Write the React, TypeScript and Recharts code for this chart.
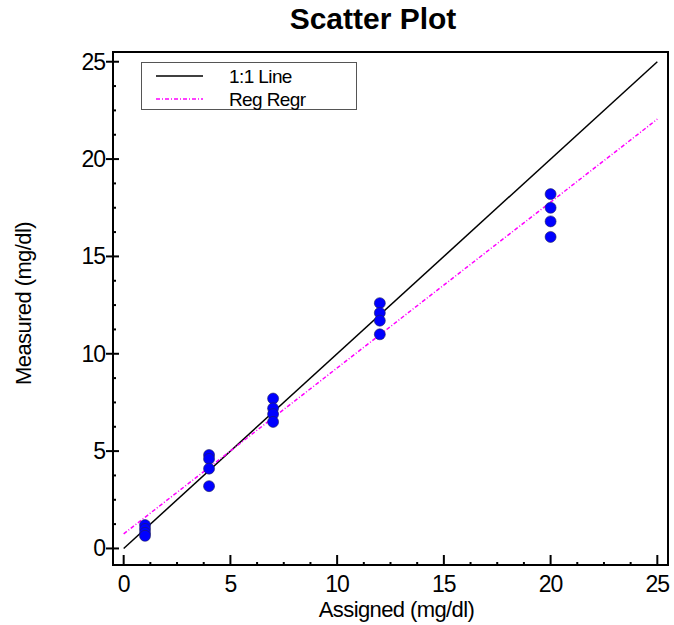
import {
  ScatterChart,
  Scatter,
  XAxis,
  YAxis,
  Legend,
  ReferenceArea,
} from "recharts";

const ASSIGNED = [1, 1, 1, 1, 4, 4, 4, 4, 7, 7, 7, 7, 12, 12, 12, 12, 20, 20, 20, 20];
const MEASURED = [1.2, 1.0, 0.8, 0.65, 4.8, 4.6, 4.1, 3.2, 7.7, 7.2, 6.9, 6.5, 12.6, 12.1, 11.7, 11.0, 18.2, 17.5, 16.8, 16.0];

const IDENTITY_X = [0, 25];
const IDENTITY_Y = [0, 25];
const REG_X = [0, 25];
const REG_Y = [0.75, 22.05];

const TICKS = [0, 1.25, 2.5, 3.75, 5, 6.25, 7.5, 8.75, 10, 11.25, 12.5, 13.75, 15, 16.25, 17.5, 18.75, 20, 21.25, 22.5, 23.75, 25];
const MAJOR = [0, 5, 10, 15, 20, 25];

const X_DOMAIN = [-0.5, 25.5];
const Y_DOMAIN = [-0.85, 25.5];

const SERIES_NAMES = ["1:1 Line", "Reg Regr"];

const points = ASSIGNED.map((x, i) => ({ x, y: MEASURED[i] }));
const identity = IDENTITY_X.map((x, i) => ({ x, y: IDENTITY_Y[i] }));
const regression = REG_X.map((x, i) => ({ x, y: REG_Y[i] }));

const FONT = "'Liberation Sans', Arial, sans-serif";
const REG_DASH = "4 2 1 2";

function XTick({ x, y, payload }: any) {
  const major = MAJOR.includes(payload.value);
  return (
    <g>
      <line x1={x} x2={x} y1={y} y2={y - (major ? 10 : 3)} stroke="#000" strokeWidth={2} />
      {major && (
        <text x={x} y={y + 27} textAnchor="middle" fontSize={23} letterSpacing={-1} fill="#000" fontFamily={FONT}>
          {payload.value}
        </text>
      )}
    </g>
  );
}

function YTick({ x, y, payload }: any) {
  const major = MAJOR.includes(payload.value);
  return (
    <g>
      {major ? (
        <line x1={x - 7} x2={x + 6} y1={y} y2={y} stroke="#000" strokeWidth={2} />
      ) : (
        <line x1={x} x2={x + 3} y1={y} y2={y} stroke="#000" strokeWidth={2} />
      )}
      {major && (
        <text x={x - 8} y={y + 8} textAnchor="end" fontSize={23} letterSpacing={-1} fill="#000" fontFamily={FONT}>
          {payload.value}
        </text>
      )}
    </g>
  );
}

function Dot(props: any) {
  return <circle cx={props.cx} cy={props.cy} r={5.5} fill="#0000ff" stroke="#20205a" strokeWidth={0.6} />;
}

const noShape = () => <g />;

function LegendBox() {
  return (
    <div
      style={{
        border: "1px solid #555",
        width: 216,
        height: 48,
        boxSizing: "border-box",
        background: "#fff",
        position: "relative",
      }}
    >
      <svg width={216} height={48} style={{ position: "absolute", left: 0, top: 0 }}>
        <line x1={14} x2={61} y1={13} y2={13} stroke="#000" strokeWidth={1.5} />
        <line x1={14} x2={61} y1={36} y2={36} stroke="#ff00ff" strokeWidth={1.5} strokeDasharray={REG_DASH} />
        <text x={87} y={20} fontSize={19} fill="#000" fontFamily={FONT} letterSpacing={-0.6}>
          {SERIES_NAMES[0]}
        </text>
        <text x={87} y={43} fontSize={19} fill="#000" fontFamily={FONT} letterSpacing={-0.6}>
          {SERIES_NAMES[1]}
        </text>
      </svg>
    </div>
  );
}

export default function App() {
  return (
    <div style={{ position: "absolute", left: 0, top: 0, width: 674, height: 625, background: "#fff" }}>
      <div
        style={{
          position: "absolute",
          left: 373,
          top: 2,
          transform: "translateX(-50%)",
          fontFamily: FONT,
          fontWeight: "bold",
          fontSize: 30,
          whiteSpace: "nowrap",
          zIndex: 2,
        }}
      >
        Scatter Plot
      </div>
      <ScatterChart width={674} height={625} margin={{ top: 52, right: 6, bottom: 0, left: 0 }}>
        <XAxis
          type="number"
          dataKey="x"
          domain={X_DOMAIN}
          ticks={TICKS}
          interval={0}
          allowDataOverflow
          height={60}
          tickSize={0}
          tickMargin={0}
          tickLine={false}
          axisLine={{ stroke: "#000", strokeWidth: 2 }}
          tick={<XTick />}
          label={{
            content: (p: any) => (
              <text
                x={p.viewBox.x + p.viewBox.width / 2 + 6}
                y={p.viewBox.y + 52}
                textAnchor="middle"
                fontSize={22}
                letterSpacing={-0.6}
                fontFamily={FONT}
                fill="#000"
              >
                Assigned (mg/dl)
              </text>
            ),
          }}
        />
        <YAxis
          type="number"
          dataKey="y"
          domain={Y_DOMAIN}
          ticks={TICKS}
          interval={0}
          allowDataOverflow
          width={113}
          tickSize={0}
          tickMargin={0}
          tickLine={false}
          axisLine={{ stroke: "#000", strokeWidth: 2 }}
          tick={<YTick />}
          label={{
            content: (p: any) => {
              const cx = 23;
              const cy = p.viewBox.y + p.viewBox.height / 2 - 5;
              return (
                <text
                  x={cx}
                  y={cy}
                  transform={`rotate(-90 ${cx} ${cy})`}
                  textAnchor="middle"
                  dominantBaseline="central"
                  fontSize={22}
                  letterSpacing={-0.6}
                  fontFamily={FONT}
                  fill="#000"
                >
                  Measured (mg/dl)
                </text>
              );
            },
          }}
        />
        <ReferenceArea
          x1={X_DOMAIN[0]}
          x2={X_DOMAIN[1]}
          y1={Y_DOMAIN[0]}
          y2={Y_DOMAIN[1]}
          fill="none"
          fillOpacity={0}
          stroke="#000"
          strokeWidth={2}
          ifOverflow="visible"
        />
        <Legend
          layout="vertical"
          align="center"
          verticalAlign="middle"
          wrapperStyle={{ left: 141, top: 62, width: 216, height: 48 }}
          content={() => <LegendBox />}
        />
        <Scatter
          name={SERIES_NAMES[0]}
          data={identity}
          line={{ stroke: "#000", strokeWidth: 1.5 }}
          shape={noShape}
          isAnimationActive={false}
        />
        <Scatter
          name={SERIES_NAMES[1]}
          data={regression}
          line={{ stroke: "#ff00ff", strokeWidth: 1.5, strokeDasharray: REG_DASH }}
          shape={noShape}
          isAnimationActive={false}
        />
        <Scatter name="Measured" data={points} shape={Dot} isAnimationActive={false} />
      </ScatterChart>
    </div>
  );
}
